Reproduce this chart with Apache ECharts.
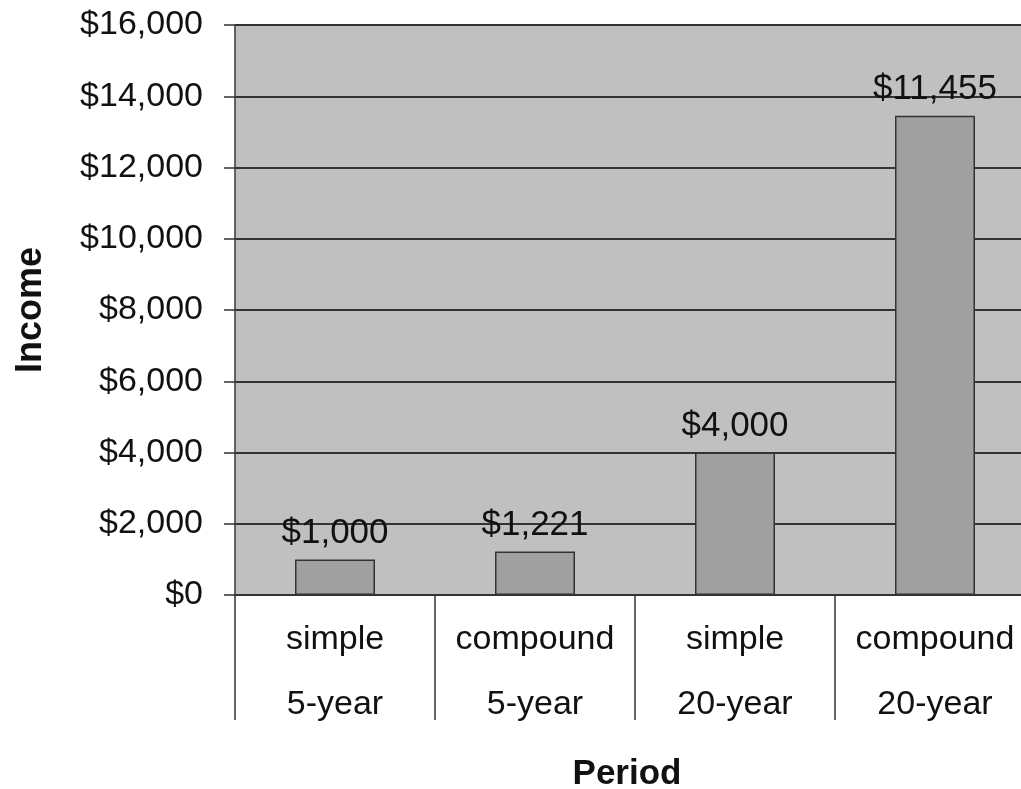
<!DOCTYPE html>
<html>
<head>
<meta charset="utf-8">
<script src="https://cdn.jsdelivr.net/npm/echarts@6/dist/echarts.min.js"></script>
<style>
  html, body { margin: 0; padding: 0; background: #fff; }
  #main { width: 1021px; height: 789px; }
</style>
</head>
<body>
<div id="main"></div>
<script>
var chartDom = document.getElementById('main');
var myChart = echarts.init(chartDom, null);

// data
var categories = ['simple\n5-year', 'compound\n5-year', 'simple\n20-year', 'compound\n20-year'];
var barValues = [1000, 1221, 4000, 13450];
var barLabels = ['$1,000', '$1,221', '$4,000', '$11,455'];

var option = {
    animation: false,
    textStyle: {
        fontFamily: 'Liberation Sans, Arial, sans-serif'
    },
    grid: {
        left: 235,
        top: 25,
        bottom: 194,
        width: 800,
        outerBoundsMode: 'none',
        show: true,
        backgroundColor: '#c0c0c0',
        borderColor: '#8c8c8c',
        borderWidth: 1
    },
    xAxis: {
        type: 'category',
        data: categories,
        name: 'Period',
        nameLocation: 'middle',
        nameGap: 162,
        nameTextStyle: { fontSize: 35, fontWeight: 'bold', color: '#111', padding: [0, 16, 0, 0] },
        axisLine: { lineStyle: { color: '#333', width: 2 } },
        axisTick: { show: true, length: 125, interval: 0, lineStyle: { color: '#333', width: 1.5 } },
        axisLabel: { fontSize: 34, color: '#111', lineHeight: 65, margin: 12, interval: 0 }
    },
    yAxis: {
        type: 'value',
        min: 0,
        max: 16000,
        interval: 2000,
        name: 'Income',
        nameLocation: 'middle',
        nameRotate: 90,
        nameGap: 186,
        nameTextStyle: { fontSize: 36, fontWeight: 'bold', color: '#111' },
        axisLine: { show: true, lineStyle: { color: '#444', width: 1.5 } },
        axisTick: { show: true, length: 11, lineStyle: { color: '#333', width: 1.5 } },
        axisLabel: {
            fontSize: 34,
            color: '#111',
            margin: 32,
            formatter: function (v) { return '$' + v.toLocaleString('en-US'); }
        },
        splitLine: { show: true, lineStyle: { color: '#333', width: 2 } }
    },
    series: [
        {
            type: 'bar',
            data: barValues,
            barWidth: 80,
            itemStyle: { color: '#a0a0a0', borderColor: '#333', borderWidth: 1.5 },
            label: {
                show: true,
                position: 'top',
                distance: 9,
                fontSize: 35,
                color: '#111',
                formatter: function (p) { return barLabels[p.dataIndex]; }
            }
        }
    ]
};

myChart.setOption(option);
</script>
</body>
</html>
